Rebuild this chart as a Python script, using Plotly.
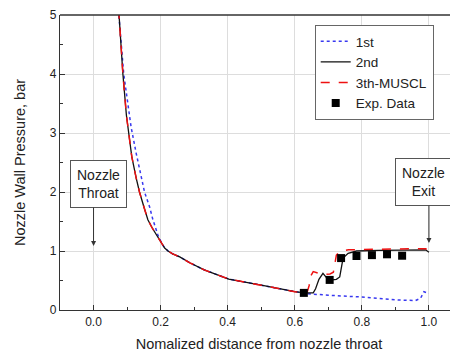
import plotly.graph_objects as go

# ---- data ----
x_2nd = [0.068, 0.0755, 0.081, 0.0875, 0.098, 0.104, 0.114, 0.127, 0.137, 0.150, 0.162, 0.175, 0.189, 0.200,
         0.212, 0.222, 0.236, 0.257, 0.287, 0.330, 0.360, 0.403, 0.500, 0.600, 0.630, 0.655, 0.662, 0.672,
         0.684, 0.692, 0.700, 0.712, 0.724, 0.734, 0.744, 0.759, 0.784, 0.850, 0.950, 0.990, 1.000]
y_2nd = [5.7, 5.0, 4.5, 4.0, 3.3, 3.0, 2.6, 2.24, 2.0, 1.75, 1.53, 1.39, 1.27, 1.16,
         1.05, 1.0, 0.95, 0.90, 0.80, 0.68, 0.62, 0.525, 0.42, 0.31, 0.29, 0.29, 0.36, 0.52,
         0.62, 0.57, 0.51, 0.51, 0.52, 0.56, 0.88, 0.96, 1.0, 1.01, 1.02, 1.02, 0.98]

x_3rd = [0.068, 0.0755, 0.081, 0.0875, 0.098, 0.104, 0.114, 0.127, 0.137, 0.150, 0.162, 0.175, 0.189, 0.200,
         0.212, 0.222, 0.236, 0.257, 0.287, 0.330, 0.360, 0.403, 0.500, 0.600, 0.630, 0.638, 0.643, 0.648,
         0.655, 0.665, 0.684, 0.705, 0.715, 0.720, 0.724, 0.734, 0.760, 0.850, 0.950, 0.990, 1.000]
y_3rd = [5.7, 5.0, 4.5, 4.0, 3.3, 3.0, 2.6, 2.24, 2.0, 1.75, 1.53, 1.39, 1.27, 1.16,
         1.05, 1.0, 0.95, 0.90, 0.80, 0.68, 0.62, 0.525, 0.42, 0.31, 0.29, 0.32, 0.42, 0.58,
         0.65, 0.63, 0.60, 0.61, 0.64, 0.80, 0.93, 0.99, 1.02, 1.03, 1.04, 1.04, 1.00]

x_1st = [0.068, 0.0755, 0.090, 0.104, 0.112, 0.127, 0.140, 0.152, 0.167, 0.177, 0.192, 0.206, 0.222,
         0.236, 0.257, 0.287, 0.330, 0.360, 0.403, 0.500, 0.600, 0.630, 0.700, 0.800, 0.910, 0.960,
         0.975, 0.985, 1.000]
y_1st = [5.9, 5.0, 4.0, 3.4, 3.1, 2.66, 2.3, 2.0, 1.75, 1.53, 1.27, 1.1, 1.0,
         0.95, 0.90, 0.80, 0.68, 0.62, 0.525, 0.42, 0.31, 0.28, 0.25, 0.22, 0.17, 0.16,
         0.20, 0.31, 0.28]

x_exp = [0.627, 0.704, 0.738, 0.784, 0.830, 0.875, 0.920]
y_exp = [0.29, 0.51, 0.88, 0.915, 0.93, 0.944, 0.92]

names = ["1st", "2nd", "3th-MUSCL", "Exp. Data"]
x_ticks = [0.0, 0.2, 0.4, 0.6, 0.8, 1.0]
x_tick_labels = ["0.0", "0.2", "0.4", "0.6", "0.8", "1.0"]
y_ticks = [0, 1, 2, 3, 4, 5]

fig = go.Figure()
fig.add_trace(go.Scatter(x=x_1st, y=y_1st, mode="lines", name=names[0],
                         line=dict(color="#3838f0", width=1.5, dash="dot")))
fig.add_trace(go.Scatter(x=x_2nd, y=y_2nd, mode="lines", name=names[1],
                         line=dict(color="#111111", width=1.3)))
fig.add_trace(go.Scatter(x=x_3rd, y=y_3rd, mode="lines", name=names[2],
                         line=dict(color="#ee1111", width=1.5, dash="dash")))
fig.add_trace(go.Scatter(x=x_exp, y=y_exp, mode="markers", name=names[3],
                         marker=dict(symbol="square", color="black", size=8)))

font = "Liberation Sans, Arial, sans-serif"

# page body has an 8px margin; figure is sized so the plot area lands at 60..458 x 15..310
fig.update_layout(
    width=450, height=345,
    margin=dict(l=52, r=0, t=7, b=43),
    plot_bgcolor="white", paper_bgcolor="white",
    font=dict(family=font, size=13, color="#222"),
    showlegend=True,
    legend=dict(x=0.64, y=0.966, xanchor="left", yanchor="top",
                bordercolor="#666", borderwidth=1, bgcolor="white",
                font=dict(size=13.5, family=font), tracegroupgap=0,
                itemwidth=30),
    xaxis=dict(range=[-0.1, 1.0866], tickvals=x_ticks, ticktext=x_tick_labels,
               showgrid=True, gridcolor="#dddddd", gridwidth=1,
               showline=True, linecolor="#333", linewidth=1.3,
               ticks="inside", ticklen=5, tickcolor="#333",
               minor=dict(ticks="inside", ticklen=3, dtick=0.1, tick0=0, tickcolor="#333", showgrid=False),
               tickfont=dict(size=12), zeroline=False,
               title=dict(text="Nomalized distance from nozzle throat", font=dict(size=14.5), standoff=11)),
    yaxis=dict(range=[0, 5], tickvals=y_ticks,
               showgrid=True, gridcolor="#dddddd", gridwidth=1,
               showline=True, linecolor="#333", linewidth=1.3,
               ticks="inside", ticklen=5, tickcolor="#333",
               minor=dict(ticks="inside", ticklen=3, dtick=0.5, tick0=0, tickcolor="#333", showgrid=False),
               tickfont=dict(size=12), zeroline=False,
               title=dict(text="Nozzle Wall Pressure, bar", font=dict(size=14.5), standoff=20)),
)

fig.add_shape(type="line", xref="paper", yref="paper", x0=0, x1=1, y0=1, y1=1,
              line=dict(color="#333", width=1.3))

# annotation boxes
fig.add_annotation(x=0.0134, y=2.14, xref="x", yref="y", text="Nozzle<br>Throat", showarrow=False,
                   bordercolor="#555", borderwidth=1, borderpad=6, bgcolor="white",
                   font=dict(size=14, family=font, color="#222"), xanchor="center", yanchor="middle")
fig.add_annotation(x=0.985, y=2.17, xref="x", yref="y", text="Nozzle<br>Exit", showarrow=False,
                   bordercolor="#555", borderwidth=1, borderpad=6, bgcolor="white",
                   font=dict(size=14, family=font, color="#222"), xanchor="center", yanchor="middle")
# arrows
fig.add_annotation(x=0.0, y=1.085, xref="x", yref="y", ax=0, ay=-40, text="", showarrow=True,
                   arrowhead=2, arrowsize=1, arrowwidth=1, arrowcolor="#333")
fig.add_annotation(x=1.0, y=1.136, xref="x", yref="y", ax=0, ay=-39, text="", showarrow=True,
                   arrowhead=2, arrowsize=1, arrowwidth=1, arrowcolor="#333")

fig.write_html("out.html")
